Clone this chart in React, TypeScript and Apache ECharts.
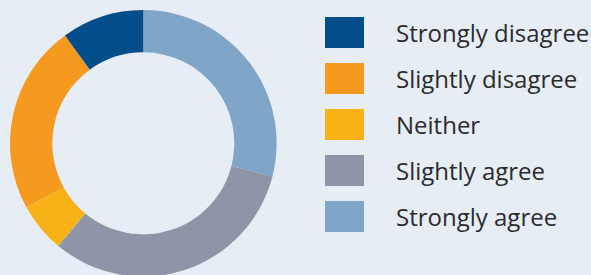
import React, { useEffect, useRef } from "react";
import * as echarts from "echarts";

const categories = ["Strongly agree", "Slightly agree", "Neither", "Slightly disagree", "Strongly disagree"];
const values = [29, 32, 6, 23, 10];
const colors = ["#7fa6c8", "#8f95a8", "#f8b218", "#f59a1f", "#034d8a"];
const legendOrder = ["Strongly disagree", "Slightly disagree", "Neither", "Slightly agree", "Strongly agree"];

export default function App() {
  const ref = useRef<HTMLDivElement>(null);
  useEffect(() => {
    document.body.style.margin = "0";
    const chart = echarts.init(ref.current!, undefined, { renderer: "svg" });
    chart.setOption({
      animation: false,
      backgroundColor: "#e6edf5",
      legend: {
        data: legendOrder,
        orient: "vertical",
        left: 325,
        top: 17,
        padding: 0,
        itemWidth: 39,
        itemHeight: 31,
        itemGap: 15,
        icon: "rect",
        selectedMode: false,
        textStyle: {
          fontFamily: "Open Sans",
          fontSize: 24,
          color: "#2b2b2b",
          padding: [0, 0, 0, 27],
        },
      },
      series: [
        {
          type: "pie",
          center: [143.3, 143.3],
          radius: [91, 133.3],
          startAngle: 90,
          clockwise: true,
          label: { show: false },
          labelLine: { show: false },
          emphasis: { disabled: true },
          data: categories.map((name, i) => ({
            name,
            value: values[i],
            itemStyle: { color: colors[i] },
          })),
        },
      ],
    });
    return () => chart.dispose();
  }, []);
  return <div ref={ref} style={{ width: 591, height: 275 }} />;
}
